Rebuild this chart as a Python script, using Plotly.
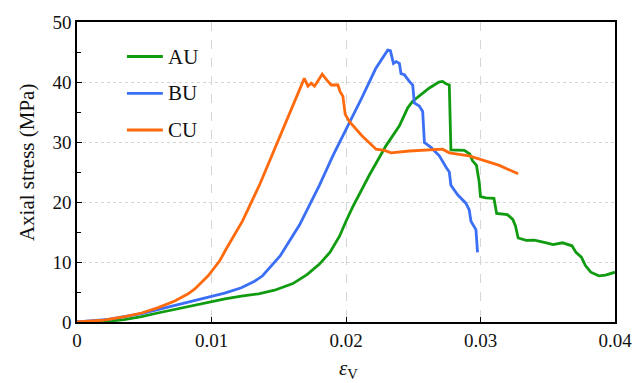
import plotly.graph_objects as go

# Volumetric strain vs axial stress for three specimens
au_strain = [0, 0.0018, 0.0035, 0.0048, 0.006, 0.00727, 0.0085, 0.00975, 0.011, 0.01222,
             0.0135, 0.01469, 0.01605, 0.0171, 0.01803, 0.0188, 0.01952, 0.0200, 0.0205,
             0.02174, 0.02298, 0.02397, 0.02459, 0.02496, 0.0256, 0.0262, 0.0269, 0.02718,
             0.02744, 0.02768, 0.0278, 0.0283, 0.0288, 0.0292, 0.0294, 0.0297, 0.0299,
             0.0300, 0.0304, 0.0310, 0.0312, 0.0320, 0.0324, 0.0326, 0.0328, 0.0334,
             0.0340, 0.0349, 0.0354, 0.0361, 0.0368, 0.0371, 0.0375, 0.0378, 0.0382,
             0.0388, 0.0393, 0.0400]
au_stress = [0, 0.0, 0.4, 0.9, 1.5, 2.1, 2.7, 3.3, 3.85, 4.3,
             4.7, 5.3, 6.4, 7.9, 9.65, 11.6, 14.3, 16.8, 19.2,
             24.5, 29.4, 32.7, 35.7, 36.8, 38.0, 39.0, 40.0, 40.1,
             39.7, 39.5, 28.7, 28.6, 28.6, 28.0, 26.9, 26.1, 23.4,
             20.9, 20.7, 20.6, 18.1, 17.9, 17.1, 16.0, 14.0, 13.6,
             13.65, 13.2, 12.9, 13.2, 12.7, 11.6, 10.8, 9.4, 8.3,
             7.7, 7.8, 8.3]

bu_strain = [0, 0.00233, 0.0048, 0.00727, 0.00975, 0.01098, 0.01222, 0.0132, 0.0138,
             0.0143, 0.0151, 0.01655, 0.01803, 0.01902, 0.02001, 0.0211, 0.0222, 0.0228,
             0.0231, 0.0233, 0.02353, 0.02373, 0.02397, 0.02409, 0.02434, 0.02471,
             0.02496, 0.02508, 0.02545, 0.0257, 0.02583, 0.02632, 0.02694, 0.02744,
             0.02768, 0.0278, 0.0283, 0.02891, 0.02916, 0.02929, 0.02966, 0.02978]
bu_stress = [0, 0.44, 1.4, 2.8, 4.2, 4.8, 5.7, 6.8, 7.7,
             8.9, 11.0, 16.2, 22.8, 27.7, 32.0, 37.0, 42.2, 44.3,
             45.3, 45.2, 43.1, 43.4, 43.1, 41.4, 41.2, 40.1,
             39.5, 36.5, 36.0, 35.1, 29.9, 29.1, 27.7, 25.8,
             25.0, 22.8, 21.2, 19.8, 18.7, 16.8, 15.4, 11.6]

cu_strain = [0, 0.002, 0.00356, 0.0048, 0.00604, 0.00727, 0.00826, 0.00876, 0.00975,
             0.01061, 0.0111, 0.0123, 0.0136, 0.0146, 0.01556, 0.0169, 0.01717, 0.01741,
             0.01766, 0.0180, 0.01823, 0.01858, 0.0189, 0.0194, 0.01956, 0.01977,
             0.01994, 0.02026, 0.0212, 0.02224, 0.02286, 0.02335, 0.02471, 0.02718,
             0.02768, 0.02917, 0.0314, 0.0328]
cu_stress = [0, 0.3, 0.9, 1.5, 2.4, 3.5, 4.7, 5.5, 7.7,
             10.2, 12.2, 16.8, 23.0, 28.3, 33.2, 40.6, 39.3, 39.8,
             39.3, 40.6, 41.3, 40.3, 39.5, 39.5, 38.4, 37.6,
             34.6, 33.4, 31.0, 28.8, 28.6, 28.2, 28.5, 28.8,
             28.2, 27.7, 26.1, 24.7]

x_ticks = [0, 0.01, 0.02, 0.03, 0.04]
x_tick_labels = ["0", "0.01", "0.02", "0.03", "0.04"]
y_ticks = [0, 10, 20, 30, 40, 50]

series_names = ["AU", "BU", "CU"]
series_colors = ["#119b11", "#3b6ff5", "#ff6a0d"]
series_data = [(au_strain, au_stress), (bu_strain, bu_stress), (cu_strain, cu_stress)]

SERIF = "Liberation Serif"
TEXT = "#111111"

fig = go.Figure()
for name, color, (xs, ys) in zip(series_names, series_colors, series_data):
    fig.add_trace(go.Scatter(
        x=xs, y=ys, mode="lines", name=name, showlegend=False,
        line=dict(color=color, width=2.8),
    ))

# Legend keys drawn in paper space (line sample + label)
legend_x0, legend_x1, legend_tx = 0.0928, 0.1596, 0.1651
legend_rows = [0.885, 0.762, 0.640]
for name, color, ly in zip(series_names, series_colors, legend_rows):
    fig.add_shape(type="line", xref="paper", yref="paper",
                  x0=legend_x0, x1=legend_x1, y0=ly, y1=ly,
                  line=dict(color=color, width=2.8))
    fig.add_annotation(xref="paper", yref="paper", x=legend_tx, y=ly,
                       xanchor="left", yanchor="middle", showarrow=False,
                       text=name, font=dict(family=SERIF, size=21, color=TEXT))

# Axis titles
fig.add_annotation(xref="paper", yref="paper", x=-0.093, y=0.533,
                   xanchor="center", yanchor="middle", showarrow=False, textangle=-90,
                   text="Axial stress (MPa)", font=dict(family=SERIF, size=21, color=TEXT))
fig.add_annotation(xref="paper", yref="paper", x=0.505, y=-0.158,
                   xanchor="center", yanchor="middle", showarrow=False,
                   text="<i>ε</i><sub>V</sub>", font=dict(family=SERIF, size=21, color=TEXT))

fig.update_layout(
    width=644, height=383,
    margin=dict(l=77, r=28, t=18, b=61),
    paper_bgcolor="white", plot_bgcolor="white",
    font=dict(family=SERIF, size=19, color=TEXT),
    showlegend=False,
)

fig.update_xaxes(
    range=[0, 0.04], tickvals=x_ticks, ticktext=x_tick_labels,
    showline=True, linecolor="black", linewidth=1.5, mirror=True,
    ticks="inside", ticklen=5, tickcolor="black", tickwidth=1.2,
    showgrid=True, gridcolor="#d6d6d6", griddash="dash", gridwidth=1,
    zeroline=False,
    tickfont=dict(family=SERIF, size=19, color=TEXT),
)
fig.update_yaxes(
    range=[0, 50], tickvals=y_ticks,
    showline=True, linecolor="black", linewidth=1.5, mirror=True,
    ticks="inside", ticklen=5, tickcolor="black", tickwidth=1.2,
    minor=dict(dtick=5, ticks="inside", ticklen=4, tickcolor="black", showgrid=False),
    showgrid=True, gridcolor="#d6d6d6", griddash="dot", gridwidth=1,
    zeroline=False,
    tickfont=dict(family=SERIF, size=19, color=TEXT),
)

fig.write_html("out.html")
